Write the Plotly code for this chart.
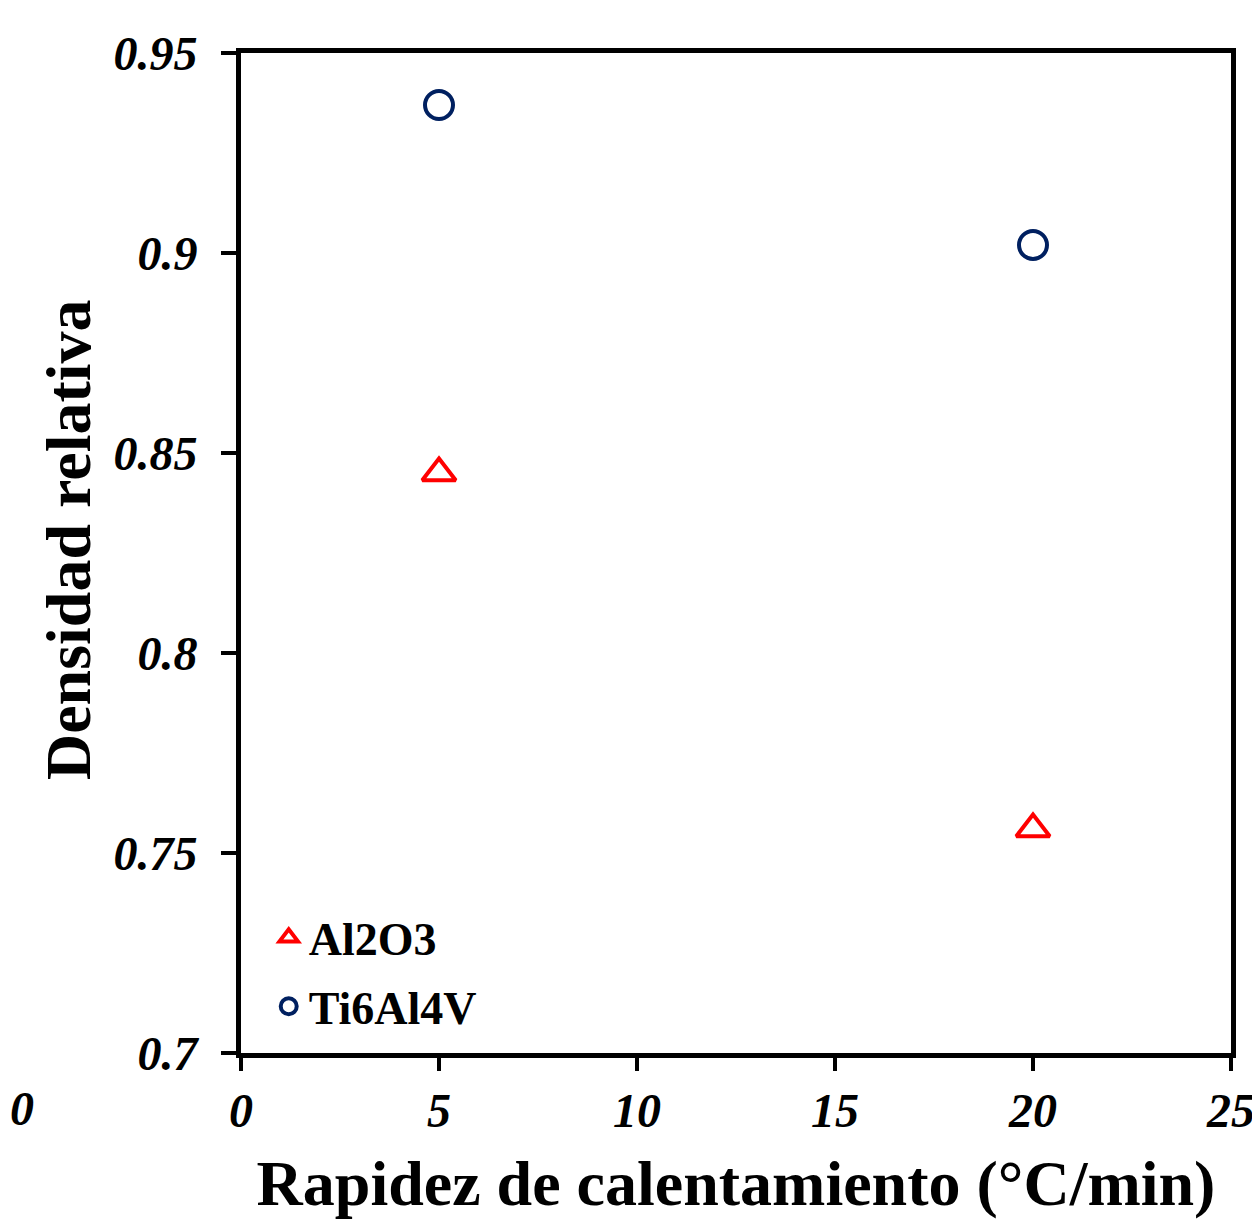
import plotly.graph_objects as go

# Data
rates = [5, 20]
al2o3 = [0.845, 0.756]
ti6al4v = [0.937, 0.902]
x_ticks = [0, 5, 10, 15, 20, 25]
y_ticks = [0.7, 0.75, 0.8, 0.85, 0.9, 0.95]
y_tick_text = ["0.7", "0.75", "0.8", "0.85", "0.9", "0.95"]

FONT = "Liberation Serif, Times New Roman, serif"

fig = go.Figure()
fig.add_trace(go.Scatter(
    x=rates, y=al2o3, mode="markers", name="Al2O3", legendgroup="a",
    marker=dict(symbol="triangle-up-open", size=29, color="#FF0000",
                line=dict(width=4, color="#FF0000")),
))
fig.add_trace(go.Scatter(
    x=rates, y=ti6al4v, mode="markers", name="Ti6Al4V", legendgroup="b",
    marker=dict(symbol="circle-open", size=28, color="#002060",
                line=dict(width=4, color="#002060")),
))

fig.update_layout(
    width=1244, height=1212,
    margin=dict(l=233, r=21, t=45, b=167, autoexpand=False),
    paper_bgcolor="white", plot_bgcolor="white",
    font=dict(family=FONT, color="black"),
    showlegend=True,
    legend=dict(x=0.028, y=0.152, xanchor="left", yanchor="top",
                bgcolor="rgba(0,0,0,0)", borderwidth=0,
                font=dict(family=FONT, size=46, color="black", weight="bold"),
                itemwidth=30, tracegroupgap=6, traceorder="grouped"),
    xaxis=dict(
        range=[0, 25], tickvals=x_ticks, ticktext=[f"<b><i>{v}</i></b>" for v in x_ticks],
        showgrid=False, zeroline=False, showline=True, linecolor="black", linewidth=5,
        mirror=True, ticks="outside", ticklen=13, tickwidth=4, tickcolor="black",
        tickfont=dict(family=FONT, size=48, color="black"),
        ticklabelstandoff=-2, ticklabeloverflow="allow", automargin=False,
        title=dict(text="<b>Rapidez de calentamiento (°C/min)</b>",
                   font=dict(family=FONT, size=64, color="black"), standoff=26),
    ),
    yaxis=dict(
        range=[0.7, 0.95], tickvals=y_ticks, ticktext=[f"<b><i>{t}</i></b>" for t in y_tick_text],
        showgrid=False, zeroline=False, showline=True, linecolor="black", linewidth=5,
        mirror=True, ticks="outside", ticklen=15, tickwidth=4, tickcolor="black",
        tickfont=dict(family=FONT, size=48, color="black"),
        ticklabelstandoff=14, ticklabeloverflow="allow", automargin=False,
    ),
)

# y-axis title (placed as annotation to match the reference position)
fig.add_annotation(
    text="<b>Densidad relativa</b>", xref="paper", yref="paper",
    x=-0.1747, y=0.513, xanchor="center", yanchor="middle", textangle=-90,
    showarrow=False, font=dict(family=FONT, size=64, color="black"),
)

fig.add_annotation(
    text="<b><i>0</i></b>", xref="paper", yref="paper", x=-0.2354, y=-0.055,
    xanchor="left", yanchor="middle", showarrow=False,
    font=dict(family=FONT, size=48, color="black"),
)

fig.write_html("out.html")
